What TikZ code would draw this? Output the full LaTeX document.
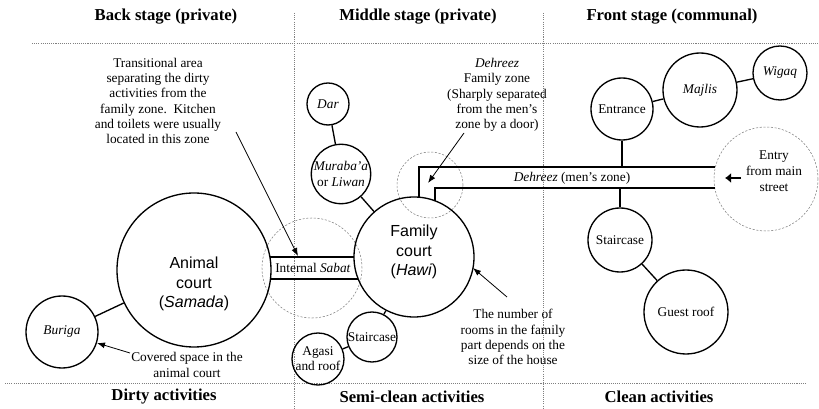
\documentclass[tikz,border=0pt]{standalone}
\usepackage{fontspec}
\setmainfont{Liberation Serif}
\newfontfamily\labelsans{Liberation Sans}
\usetikzlibrary{arrows.meta}

\begin{document}
\begin{tikzpicture}[x=0.75pt,y=-0.75pt,
  room/.style={circle, draw, line width=1pt, inner sep=0pt,
    font=\fontsize{10}{11.4}\selectfont, align=center},
  zone/.style={circle, draw=gray, line width=0.4pt, inner sep=0pt,
    dash pattern=on 1.6pt off 1.2pt},
  divider/.style={draw=gray, line width=0.45pt, dash pattern=on 0.8pt off 0.8pt},
  link/.style={line width=1pt},
  pointer/.style={line width=0.6pt, -{Latex[length=6pt,width=4.5pt]}},
  wall/.style={line width=1.2pt},
  wallthin/.style={line width=0.8pt},
  note/.style={font=\fontsize{10}{11.4}\selectfont, align=center, inner sep=0pt},
  heading/.style={font=\fontsize{12.5}{14}\selectfont\bfseries, inner sep=0pt},
  court/.style={font=\labelsans\fontsize{12}{14.6}\selectfont, align=center, inner sep=0pt}]

\useasboundingbox (0,0) rectangle (819,409);

% stage dividers
\draw[divider] (32,43) -- (819,43);
\draw[divider] (5,383) -- (806,383);
\draw[divider] (294,13) -- (294,409);
\draw[divider] (543,13) -- (543,409);

% headings
\node[heading] (hback)  at (166,17)  {Back stage (private)};
\node[heading] (hmid)   at (418,17)  {Middle stage (private)};
\node[heading] (hfront) at (672,17)  {Front stage (communal)};
\node[heading] (hdirty) at (164,397) {Dirty activities};
\node[heading] (hsemi)  at (412,397) {Semi-clean activities};
\node[heading] (hclean) at (659,397) {Clean activities};

% transition zones
\node[zone, minimum size=75pt]   (sabatzone) at (312,268) {};
\node[zone, minimum size=49.5pt] (dehzone)   at (430,185) {};
\node[zone, minimum size=78pt, align=center, font=\fontsize{10}{12}\selectfont]
      (entry) at (766,179) {};
\node[note, font=\fontsize{10}{12}\selectfont] (entrytext) at (774,171) {Entry\\from main\\street};

% rooms
\node[room, minimum size=115.5pt] (animal) at (194,270) {};
\node[court] (animaltext) at (194,284) {Animal\\court\\(\textit{Samada})};
\node[room, minimum size=54pt]   (buriga) at (62,332) {\textit{Buriga}};
\node[room, minimum size=90pt]   (family) at (414,257) {};
\node[court] (familytext) at (414,252) {Family\\court\\(\textit{Hawi})};
\node[room, minimum size=37.5pt] (stairm) at (372,337) {Staircase};
\node[room, minimum size=39pt]   (agasi)  at (318,359) {Agasi\\and roof};
\node[room, minimum size=39pt]   (muraba) at (341,174) {\textit{Muraba’a}\\or \textit{Liwan}};
\node[room, minimum size=31.5pt] (dar)    at (328,104) {\textit{Dar}};
\node[room, minimum size=46.5pt] (entrance) at (622,109) {Entrance};
\node[room, minimum size=55.5pt] (majlis) at (700,90) {\textit{Majlis}};
\node[room, minimum size=40.5pt] (wigaq)  at (780,73) {\textit{Wigaq}};
\node[room, minimum size=48pt]   (stairf) at (620,240) {Staircase};
\node[room, minimum size=63pt]   (guest)  at (686,312) {Guest roof};

% links between rooms
\draw[link] (buriga) -- (animal);
\draw[link] (dar) -- (muraba);
\draw[link] (muraba) -- (family);
\draw[link] (family) -- (stairm);
\draw[link] (stairm) -- (agasi);
\draw[link] (entrance) -- (majlis);
\draw[link] (majlis) -- (wigaq);
\draw[link] (stairf) -- (guest);

% internal Sabat passage
\coordinate (stl) at (270,257);
\coordinate (str) at (354,257);
\coordinate (sbl) at (270.5,279);
\coordinate (sbr) at (358.2,279);
\draw[wall] (stl) -- (str);
\draw[wallthin] (sbl) -- (sbr);
\node[note] (sabat) at (313,268) {Internal \textit{Sabat}};

% Dehreez passage (men's zone)
\coordinate (dtf) at (419,197.2);
\coordinate (dtl) at (419,167);
\coordinate (dtr) at (715.4,167);
\coordinate (dbf) at (435,200.8);
\coordinate (dbl) at (435,188);
\coordinate (dbr) at (714.8,188);
\draw[wall] (dtf) -- (dtl) -- (dtr);
\draw[wallthin] (dbf) -- (dbl) -- (dbr);
\node[note] (dehreez) at (572,178) {\textit{Dehreez} (men’s zone)};
\draw[link] (entrance.south) -- (entrance.south |- dtl);
\draw[link] (stairf.north) -- (stairf.north |- dbl);

% entry arrow
\coordinate (entrytail) at (741,178);
\coordinate (entrytip) at (725,178);
\draw[line width=1.8pt, -{Latex[length=4.5pt,width=7.5pt]}] (entrytail) -- (entrytip);

% annotations
\node[note] (transnote) at (158,101) {Transitional area\\separating the dirty\\activities from the\\family zone.\ \ Kitchen\\and toilets were usually\\located in this zone};
\coordinate (transtail) at (236,132);
\coordinate (transtip) at (298,256);
\draw[pointer] (transtail) -- (transtip);

\node[note] (dehnote) at (497,95) {\textit{Dehreez}\\Family zone\\(Sharply separated\\from the men’s\\zone by a door)};
\coordinate (dehtail) at (464,133);
\coordinate (dehtip) at (428,183);
\draw[pointer] (dehtail) -- (dehtip);

\node[note] (roomsnote) at (513,337) {The number of\\rooms in the family\\part depends on the\\size of the house};
\coordinate (roomstail) at (507,297);
\coordinate (roomstip) at (473,268);
\draw[pointer] (roomstail) -- (roomstip);

\node[note] (covernote) at (187,365) {Covered space in the\\animal court};
\coordinate (covertail) at (130,353);
\coordinate (covertip) at (97,343);
\draw[pointer] (covertail) -- (covertip);

\end{tikzpicture}
\end{document}
